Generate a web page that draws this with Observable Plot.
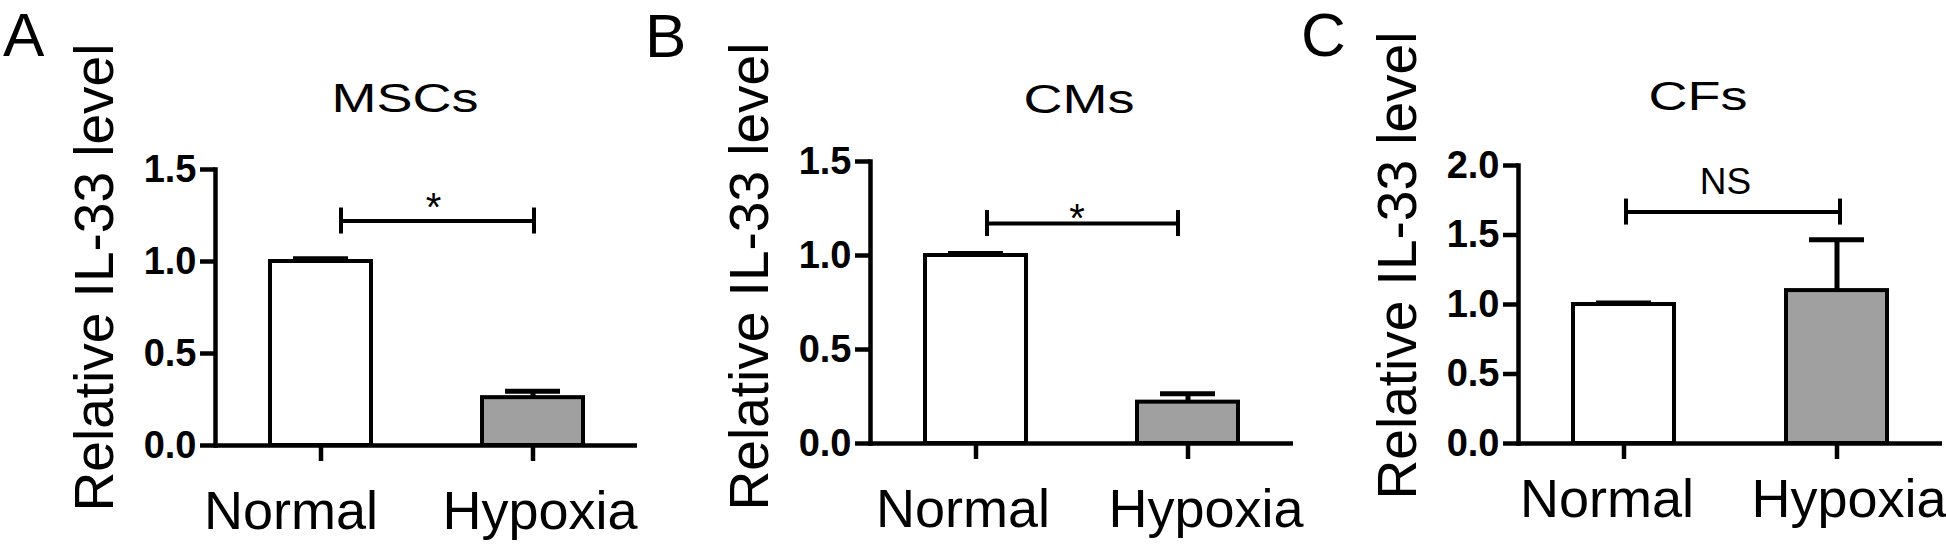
<!DOCTYPE html>
<html><head><meta charset="utf-8">
<script src="https://cdn.jsdelivr.net/npm/d3@7"></script>
<script src="https://cdn.jsdelivr.net/npm/@observablehq/plot@0.6"></script>
<style>
html,body{margin:0;padding:0;background:#fff;}
#fig{position:relative;width:1946px;height:544px;overflow:hidden;background:#fff;font-family:"Liberation Sans",Arial,sans-serif;color:#000;}
.panel{position:absolute;top:0;}
.panel svg{overflow:visible;}
.letter{position:absolute;font-size:62px;line-height:70px;white-space:nowrap;}
.title{position:absolute;width:400px;text-align:center;font-size:40px;line-height:46px;transform:scaleX(1.35);transform-origin:50% 50%;white-space:nowrap;}
</style></head><body><div id="fig"></div>
<script>
// ---- data ----
const groups = ["Normal", "Hypoxia"];
const groupFill = ["#ffffff", "#a0a0a0"];
const panelLetters = ["A", "B", "C"];
const panelTitles = ["MSCs", "CMs", "CFs"];
const yLabel = "Relative IL-33 level";
const mscMean = [1.0, 0.26];
const mscSem = [0.015, 0.035];
const cmMean = [1.0, 0.22];
const cmSem = [0.01, 0.045];
const cfMean = [1.0, 1.1];
const cfSem = [0.01, 0.365];
const mscTicks = [0, 0.5, 1.0, 1.5];
const cmTicks = [0, 0.5, 1.0, 1.5];
const cfTicks = [0, 0.5, 1.0, 1.5, 2.0];
const sigLabels = ["*", "*", "NS"];
const sigY = [1.22, 1.17, 1.665];

const means = [mscMean, cmMean, cfMean];
const sems = [mscSem, cmSem, cfSem];
const ticks = [mscTicks, cmTicks, cfTicks];

// ---- layout / style per panel ----
const layout = [
  {left: 0,    width: 650, mL: 215, mR: 13, mT: 169, mB: 99,  brL: 20, brR: 1,   sigDx: 7,  sigDy: -13, sigSize: 40, xdx: [-30, 7],  xPad: 45, yTitleDy: -30, titleC: 404.5, titleTop: 75, letterL: 3,    letterTop: 0},
  {left: 650,  width: 650, mL: 220, mR: 7,  mT: 161, mB: 101, brL: 11, brR: -10, sigDx: -5, sigDy: -4,  sigSize: 40, xdx: [-13, 18], xPad: 45, yTitleDy: -26, titleC: 1079,  titleTop: 76, letterL: 645,  letterTop: 1},
  {left: 1300, width: 646, mL: 218, mR: 4,  mT: 165, mB: 101, brL: 2,  brR: 3,   sigDx: -5, sigDy: -30, sigSize: 37, xdx: [-17, 12], xPad: 35, yTitleDy: -39, titleC: 1698,  titleTop: 73, letterL: 1301, letterTop: 0}
];
const padIn = 0.506, padOut = 0.247;

const fig = document.getElementById("fig");

layout.forEach((L, p) => {
  const rows = groups.map((g, i) => ({group: g, mean: means[p][i], sem: sems[p][i], fill: groupFill[i]}));
  const sig = [{from: groups[0], to: groups[1], y: sigY[p], label: sigLabels[p]}];
  const band = d3.scaleBand().domain(groups).range([L.mL, L.width - L.mR]).paddingInner(padIn).paddingOuter(padOut);
  const bw = band.bandwidth();
  const yMax = d3.max(ticks[p]);

  const chart = Plot.plot({
    width: L.width,
    height: 544,
    marginLeft: L.mL, marginRight: L.mR, marginTop: L.mT, marginBottom: L.mB,
    style: {fontFamily: "Liberation Sans, Arial, sans-serif", background: "transparent", overflow: "visible", color: "#000"},
    x: {domain: groups, paddingInner: padIn, paddingOuter: padOut, axis: null},
    y: {domain: [0, yMax], axis: null},
    marks: [
      Plot.barY(rows, {x: "group", y: "mean", fill: "fill", stroke: "#000", strokeWidth: 4, insetLeft: 2, insetRight: 2}),
      Plot.ruleX(rows, {x: "group", y1: "mean", y2: d => d.mean + d.sem, stroke: "#000", strokeWidth: 5}),
      Plot.tickY(rows, {x: "group", y: d => d.mean + d.sem, stroke: "#000", strokeWidth: 5, insetLeft: 25, insetRight: 25}),
      Plot.ruleY([0], {stroke: "#000", strokeWidth: 4.5}),
      Plot.frame({anchor: "left", stroke: "#000", strokeWidth: 4.5}),
      Plot.axisY(ticks[p], {tickSize: 15, tickPadding: 4, fontSize: 38, fontWeight: "bold", tickFormat: d3.format(".1f"), strokeWidth: 4.5, label: null}),
      Plot.axisX({tickSize: 16, tickFormat: () => "", strokeWidth: 4.5, label: null}),
      ...groups.map((g, i) => Plot.axisX([g], {tickSize: 0, tickPadding: L.xPad, fontSize: 54, dx: L.xdx[i], label: null})),
      Plot.text([yLabel], {text: d => d, frameAnchor: "left", textAnchor: "middle", rotate: -90, fontSize: 55, dx: -120, dy: L.yTitleDy}),
      // significance bracket
      Plot.ruleY(sig, {x1: "from", x2: "to", y: "y", stroke: "#000", strokeWidth: 4, insetLeft: bw / 2 + L.brL, insetRight: bw / 2 - L.brR}),
      Plot.ruleX(sig, {x: "from", y1: "y", y2: "y", insetTop: -13, insetBottom: -13, dx: L.brL, stroke: "#000", strokeWidth: 4}),
      Plot.ruleX(sig, {x: "to", y1: "y", y2: "y", insetTop: -13, insetBottom: -13, dx: L.brR, stroke: "#000", strokeWidth: 4}),
      Plot.text(sig, {y: "y", text: "label", fontSize: L.sigSize, dx: L.sigDx, dy: L.sigDy})
    ]
  });
  const holder = document.createElement("div");
  holder.className = "panel";
  holder.style.left = L.left + "px";
  holder.appendChild(chart);
  fig.appendChild(holder);

  const t = document.createElement("div");
  t.className = "title";
  t.textContent = panelTitles[p];
  t.style.left = (L.titleC - 200) + "px";
  t.style.top = L.titleTop + "px";
  fig.appendChild(t);

  const a = document.createElement("div");
  a.className = "letter";
  a.textContent = panelLetters[p];
  a.style.left = L.letterL + "px";
  a.style.top = L.letterTop + "px";
  fig.appendChild(a);
});
</script>
</body></html>
